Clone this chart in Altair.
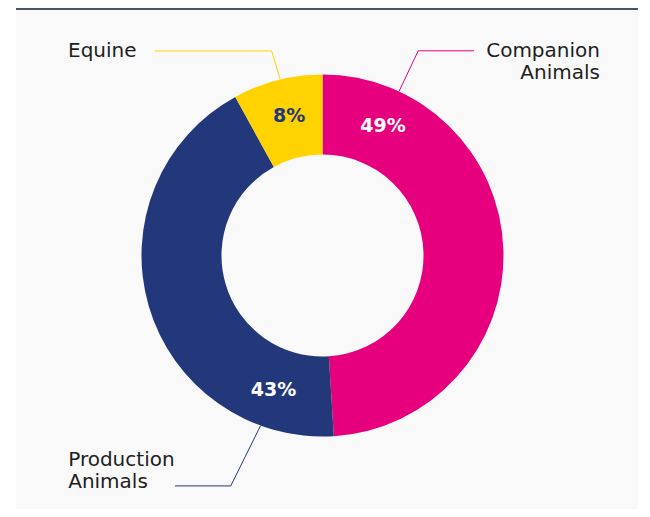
import math
import altair as alt
import pandas as pd

# ---- data ----
categories = ["Companion Animals", "Production Animals", "Equine"]
shares = [49, 43, 8]
pct_labels = ["49%", "43%", "8%"]
name_labels = ["Companion\nAnimals", "Production\nAnimals", "Equine"]
colors = ["#E6007E", "#22387A", "#FFD200"]

# ---- annotation geometry (units of the outer radius) ----
anchor_deg = [25, 200, 346.5]          # angle where label / leader sit
elbow_x = [0.529, -0.507, -0.281]
elbow_y = [1.131, -1.273, 1.130]
end_x = [0.837, -0.815, -0.925]
text_x = [1.533, -1.405, -1.406]
text_y = [1.097, -1.163, 1.097]

R_OUT, R_IN = 181, 101
W, H = 622, 501
xs = alt.Scale(domain=[-1.6934, 1.7431], nice=False, zero=False)
ys = alt.Scale(domain=[-1.4006, 1.3674], nice=False, zero=False)
cscale = alt.Scale(domain=categories, range=colors)

df = pd.DataFrame({
    "category": categories,
    "share": shares,
    "ord": [0, 1, 2],
    "pct": pct_labels,
    "name": name_labels,
    "anchor": anchor_deg,
    "tx": text_x,
    "ty": text_y,
})

rows = []
for c, a, ex, ey, nx in zip(categories, anchor_deg, elbow_x, elbow_y, end_x):
    rad = math.radians(a)
    rows.append({"category": c, "i": 0, "lx": math.sin(rad), "ly": math.cos(rad)})
    rows.append({"category": c, "i": 1, "lx": ex, "ly": ey})
    rows.append({"category": c, "i": 2, "lx": nx, "ly": ey})
leaders = pd.DataFrame(rows)

base = alt.Chart(df)

arcs = base.mark_arc(outerRadius=R_OUT, innerRadius=R_IN).encode(
    theta=alt.Theta("share:Q", stack=True),
    order=alt.Order("ord:Q"),
    color=alt.Color("category:N", scale=cscale, legend=None),
    x=alt.X(datum=0, type="quantitative", scale=xs, axis=None),
    y=alt.Y(datum=0, type="quantitative", scale=ys, axis=None),
)

pcts = base.transform_calculate(
    px="0.79*sin(datum.anchor*PI/180)",
    py="0.79*cos(datum.anchor*PI/180)",
).mark_text(font="DejaVu Sans", fontSize=19, fontWeight="bold",
            align="center", baseline="middle").encode(
    x=alt.X("px:Q", scale=xs, axis=None),
    y=alt.Y("py:Q", scale=ys, axis=None),
    text="pct:N",
    color=alt.condition(alt.datum.category == "Equine",
                        alt.value("#22387A"), alt.value("#FFFFFF")),
)

lines = alt.Chart(leaders).mark_line(strokeWidth=1).encode(
    x=alt.X("lx:Q", scale=xs, axis=None),
    y=alt.Y("ly:Q", scale=ys, axis=None),
    order="i:Q",
    detail="category:N",
    color=alt.Color("category:N", scale=cscale, legend=None),
)

name_right = base.transform_filter(alt.datum.category == "Companion Animals").mark_text(
    font="DejaVu Sans", fontSize=20, align="right", baseline="alphabetic",
    lineBreak="\n", lineHeight=22, color="#1E1E1E").encode(
    x=alt.X("tx:Q", scale=xs, axis=None),
    y=alt.Y("ty:Q", scale=ys, axis=None),
    text="name:N",
)
name_left = base.transform_filter(alt.datum.category != "Companion Animals").mark_text(
    font="DejaVu Sans", fontSize=20, align="left", baseline="alphabetic",
    lineBreak="\n", lineHeight=22, color="#1E1E1E").encode(
    x=alt.X("tx:Q", scale=xs, axis=None),
    y=alt.Y("ty:Q", scale=ys, axis=None),
    text="name:N",
)

topbar = alt.Chart(df).mark_rule(color="#4B5560", strokeWidth=2).encode(
    x=alt.value(0), x2=alt.value(W), y=alt.value(1)
)

chart = alt.layer(arcs, lines, pcts, name_right, name_left, topbar).properties(
    width=W, height=H,
    padding={"left": 8, "top": 0, "right": 0, "bottom": 0},
    autosize=alt.AutoSizeParams(type="none"),
    background="#FFFFFF",
).configure_view(fill="#F9F9F9", strokeWidth=0)

chart.save("out.html", embed_options={"renderer": "svg", "actions": False})
